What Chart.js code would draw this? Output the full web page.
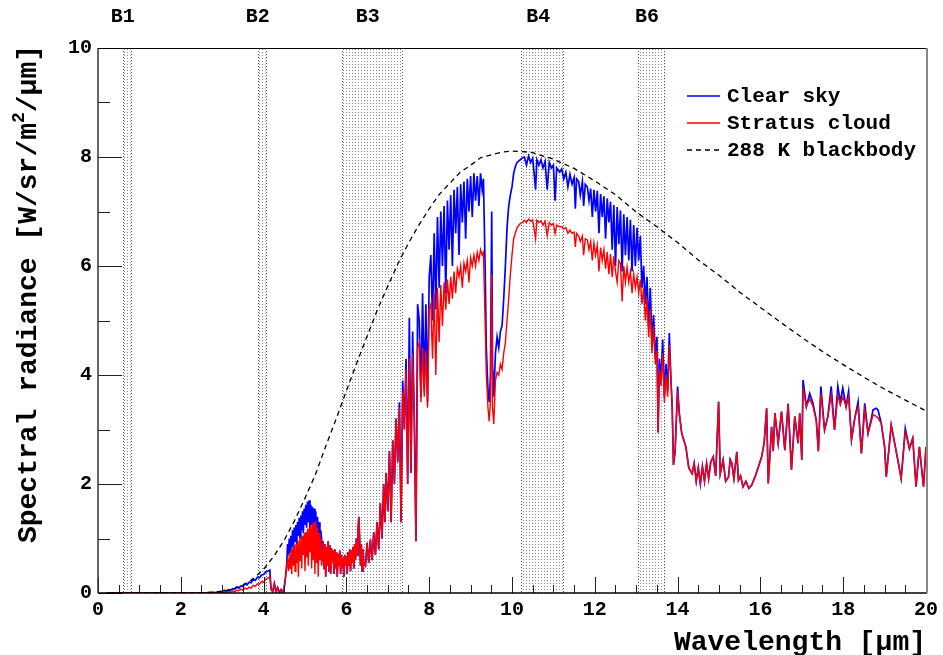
<!DOCTYPE html>
<html>
<head>
<meta charset="utf-8">
<script src="https://cdn.jsdelivr.net/npm/chart.js@4.4.1/dist/chart.umd.min.js"></script>
<style>
  html, body { margin: 0; padding: 0; background: #fff; }
  canvas { display: block; }
</style>
</head>
<body>
<canvas id="c" width="943" height="655"></canvas>
<script>
// ---------------- data ----------------
const wl = [
  0.2,1.0,2.0,2.6,2.8,2.9,
  2.95,3.0,3.05,3.1,3.15,3.2,3.25,3.3,3.35,3.4,3.45,3.5,3.55,3.6,3.65,3.7,3.75,3.8,3.85,3.9,3.95,4.0,4.05,4.1,4.15,4.18,
  4.22,4.26,4.3,4.34,4.38,4.42,4.46,4.5,4.53,
  4.56,4.58,4.60,4.62,4.64,4.66,4.68,4.70,4.72,4.74,4.76,4.78,4.80,4.82,4.84,4.86,4.88,4.90,4.92,4.94,4.96,4.98,5.00,5.02,5.04,5.06,5.08,5.10,5.12,5.14,5.16,5.18,5.20,5.22,5.24,5.26,5.28,5.30,5.32,5.34,5.36,5.38,5.40,
  5.42,5.44,5.46,5.48,5.50,5.52,5.54,5.56,5.58,5.60,5.62,5.64,5.66,5.68,5.70,5.72,5.74,5.76,5.78,5.80,5.82,5.84,5.86,5.88,5.90,5.92,5.94,5.96,5.98,6.00,6.02,6.04,6.06,6.08,6.10,6.12,6.14,6.16,6.18,6.20,6.22,6.24,6.26,6.28,6.30,6.32,6.34,6.36,6.38,6.40,6.42,
  6.46,6.50,6.54,6.58,6.62,6.66,6.70,6.74,6.78,6.82,6.86,6.90,6.93,6.96,7.00,7.04,7.08,7.12,7.16,7.20,7.24,7.28,7.32,7.36,7.40,7.44,7.48,7.52,7.56,7.60,7.64,7.68,7.72,7.76,7.80,7.84,7.88,7.92,7.96,8.00,
  8.04,8.08,8.12,8.16,8.20,8.24,8.28,8.32,8.36,8.40,8.44,8.48,8.52,8.56,8.60,8.64,8.68,8.72,8.76,8.80,8.84,8.88,8.92,8.96,9.00,9.04,9.08,9.12,9.16,9.20,9.24,9.28,9.31,
  9.35,9.38,9.42,9.45,9.48,9.51,9.53,9.56,9.60,9.64,9.68,9.72,9.76,9.80,9.84,9.88,9.92,9.96,10.00,10.04,10.08,10.12,10.20,
  10.25,10.30,10.35,10.40,10.45,10.50,10.57,10.60,10.65,10.70,10.75,10.80,10.85,10.90,10.95,11.00,11.04,11.08,11.15,11.20,11.25,11.30,11.35,11.40,11.45,11.50,11.53,11.56,11.61,11.65,11.70,11.73,11.77,11.82,11.86,11.90,11.94,11.98,12.02,12.06,12.10,12.14,12.18,12.22,12.26,12.30,12.34,12.38,12.42,12.46,12.50,12.54,12.58,12.62,12.66,12.70,12.74,12.78,
  12.82,12.86,12.90,12.94,12.98,13.02,13.06,13.10,13.14,13.18,13.22,13.26,13.30,13.34,13.38,13.42,13.46,13.50,13.53,13.56,13.60,13.64,13.68,13.72,13.76,13.80,13.84,13.87,13.90,13.94,
  14.00,14.04,14.10,14.20,14.27,14.35,14.40,14.45,14.50,14.55,14.60,14.65,14.70,14.75,14.80,14.86,14.92,14.99,15.03,15.10,15.16,15.23,15.27,15.31,15.36,15.43,15.47,15.52,15.58,15.65,15.72,15.79,15.87,15.95,16.03,16.09,16.15,16.19,16.27,16.31,16.35,16.43,16.51,16.59,16.67,16.75,16.83,16.91,16.95,17.00,17.03,17.11,17.19,17.27,17.35,17.40,17.46,17.55,17.63,17.71,17.79,17.87,17.93,17.99,18.07,18.13,18.20,18.28,18.36,18.44,18.52,18.60,18.68,18.72,18.80,18.84,18.92,19.00,19.04,19.16,19.26,19.32,19.40,19.50,19.60,19.68,19.76,19.84,19.94,20.00
];

const clearSky = [
  0,0,0,0,0.01,0,
  0.03,0.02,0.05,0.03,0.06,0.05,0.08,0.07,0.11,0.09,0.13,0.12,0.17,0.15,0.20,0.19,0.25,0.23,0.29,0.28,0.33,0.34,0.39,0.40,0.42,0.08,
  0.03,0.17,0.02,0.10,0.0,0.06,0.0,0.12,0.3,
  0.55,0.9,0.7,1.0,0.75,1.05,0.85,1.15,0.8,1.2,0.95,1.25,0.9,1.3,1.05,1.38,1.0,1.42,1.15,1.5,1.1,1.55,1.25,1.62,1.2,1.68,1.3,1.7,1.15,1.62,1.25,1.58,1.0,1.55,1.2,1.5,0.9,1.4,1.1,1.3,0.8,1.15,1.0,
  0.6,0.95,0.45,0.9,0.3,0.85,0.5,0.95,0.4,0.88,0.35,0.82,0.55,0.78,0.35,0.8,0.45,0.75,0.3,0.72,0.5,0.78,0.35,0.7,0.45,0.65,0.3,0.7,0.5,0.68,0.35,0.75,0.5,0.8,0.4,0.78,0.55,0.85,0.45,0.9,0.6,1.0,0.7,1.15,1.4,1.0,0.5,0.9,0.4,0.8,0.55,
  0.5,0.92,0.55,0.98,0.6,1.12,0.7,1.3,0.8,1.65,1.0,2.0,1.3,2.2,1.5,2.6,1.3,2.8,2.0,3.2,2.4,3.5,1.3,3.9,3.0,4.3,2.0,5.05,2.2,4.8,3.2,0.95,5.3,5.0,3.6,5.5,3.7,5.3,3.5,5.8,
  6.2,5.0,6.6,5.2,6.9,5.6,7.0,6.0,7.1,5.5,7.2,6.3,7.3,6.0,7.4,6.6,7.45,6.2,7.5,6.8,7.55,6.5,7.6,7.0,7.65,6.9,7.7,7.2,7.65,7.1,7.7,7.4,7.6,
  6.0,4.5,3.7,3.5,4.0,7.0,4.2,3.6,4.4,4.7,4.5,4.8,4.9,5.4,6.0,6.7,7.1,7.3,7.45,7.7,7.82,7.9,7.95,
  7.98,8.0,7.85,8.02,7.9,7.98,7.4,7.95,7.85,7.95,7.8,7.92,7.4,7.9,7.8,7.85,7.2,7.8,7.72,7.78,7.6,7.72,7.45,7.68,7.5,7.62,7.05,7.6,7.55,7.3,7.55,7.1,7.5,7.45,7.2,7.42,6.9,7.4,7.0,7.38,6.6,7.32,6.9,7.28,6.5,7.24,6.8,7.18,6.3,7.12,6.0,7.08,6.4,7.02,5.9,6.95,6.2,6.9,
  6.1,6.85,5.9,6.75,6.0,6.7,6.1,6.55,5.6,6.0,5.3,5.8,4.9,5.6,4.6,5.1,4.3,4.7,2.95,4.3,3.9,4.65,3.6,4.2,3.7,4.77,3.9,3.4,2.35,2.6,
  3.79,3.3,2.93,2.68,2.3,2.19,2.38,2.05,2.3,2.0,2.32,2.05,2.38,2.1,2.4,2.5,2.15,3.51,2.19,2.44,2.05,2.13,2.45,2.38,2.1,2.59,2.07,2.15,1.95,2.05,1.92,1.98,2.13,2.31,2.5,2.75,3.39,2.01,3.05,2.6,3.30,2.75,3.33,2.62,3.47,2.26,3.24,2.75,3.30,2.44,3.91,3.42,3.66,3.48,3.17,2.6,3.79,2.99,3.24,3.79,2.99,3.79,3.5,3.76,3.42,3.70,2.81,3.21,3.51,2.56,3.48,2.93,3.2,3.36,3.39,3.36,3.11,2.68,2.13,3.08,2.68,2.44,2.10,3.02,2.65,2.84,1.95,2.68,1.95,2.68
];

const stratusCloud = [
  0,0,0,0,0,0,
  0.01,0.0,0.02,0.0,0.03,0.01,0.04,0.02,0.05,0.04,0.07,0.05,0.09,0.07,0.11,0.09,0.14,0.12,0.17,0.16,0.21,0.20,0.25,0.27,0.30,0.06,
  0.02,0.18,0.01,0.09,0.0,0.05,0.01,0.10,0.28,
  0.5,0.62,0.4,0.72,0.45,0.78,0.35,0.82,0.5,0.88,0.4,0.9,0.55,0.95,0.3,0.98,0.6,1.02,0.45,1.05,0.7,1.1,0.4,1.12,0.65,1.18,0.5,1.2,0.75,1.25,0.45,1.28,0.6,1.3,0.35,1.32,0.55,1.2,0.3,1.1,0.6,1.0,0.5,
  0.6,0.95,0.45,0.9,0.3,0.85,0.5,0.95,0.4,0.88,0.35,0.82,0.55,0.78,0.35,0.8,0.45,0.75,0.3,0.72,0.5,0.78,0.35,0.7,0.45,0.65,0.3,0.7,0.5,0.68,0.35,0.75,0.5,0.8,0.4,0.78,0.55,0.85,0.45,0.9,0.6,1.0,0.7,1.15,1.4,1.0,0.5,0.9,0.4,0.8,0.55,
  0.5,0.92,0.55,0.98,0.6,1.12,0.7,1.3,0.8,1.65,1.0,2.0,1.3,2.2,1.5,2.6,1.3,2.8,2.0,3.2,2.4,3.4,1.3,3.7,3.0,4.1,2.0,4.3,2.2,4.4,3.2,0.95,4.5,4.6,3.5,4.5,3.6,4.45,3.4,5.2,
  5.3,4.3,5.5,4.0,5.6,4.6,5.65,4.9,5.7,5.2,5.75,5.3,5.8,5.4,5.9,5.5,5.95,5.8,6.0,5.6,6.05,5.9,6.1,5.7,6.15,6.0,6.2,6.0,6.25,6.1,6.3,6.2,6.25,
  5.0,4.0,3.4,3.15,3.5,5.85,3.4,3.1,3.9,4.05,4.0,4.2,4.1,4.4,4.6,5.0,5.4,5.85,6.2,6.5,6.6,6.7,6.78,
  6.8,6.84,6.8,6.86,6.82,6.85,6.5,6.84,6.8,6.83,6.75,6.82,6.55,6.8,6.75,6.78,6.6,6.75,6.72,6.72,6.68,6.7,6.6,6.66,6.6,6.62,6.35,6.6,6.55,6.45,6.55,6.2,6.5,6.48,6.3,6.45,6.1,6.42,6.2,6.38,5.9,6.34,6.1,6.3,5.95,6.26,5.85,6.22,5.8,6.18,5.9,5.7,6.1,6.05,5.35,6.0,5.7,5.98,
  5.7,5.9,5.5,5.85,5.6,5.8,5.5,5.75,5.3,5.6,5.0,5.4,4.7,5.2,4.4,4.9,4.2,4.45,2.94,4.1,3.8,4.4,3.5,4.0,3.6,4.55,3.9,3.4,2.35,2.6,
  3.7,3.3,2.93,2.68,2.3,2.19,2.38,2.05,2.3,2.0,2.32,2.05,2.38,2.1,2.4,2.5,2.15,3.51,2.19,2.44,2.05,2.13,2.45,2.38,2.1,2.59,2.07,2.15,1.95,2.05,1.92,1.98,2.13,2.31,2.5,2.75,3.39,2.01,3.05,2.6,3.30,2.75,3.33,2.62,3.47,2.26,3.24,2.75,3.30,2.44,3.76,3.42,3.57,3.42,3.17,2.6,3.66,2.99,3.24,3.63,2.99,3.63,3.45,3.6,3.42,3.60,2.81,3.21,3.42,2.56,3.36,2.93,3.15,3.27,3.24,3.21,3.11,2.68,2.13,3.08,2.68,2.44,2.10,2.96,2.65,2.84,1.95,2.68,1.95,2.68
];

const bbWl  = [0.25,1.0,2.0,2.5,3.0,3.25,3.5,3.75,4.0,4.25,4.5,4.75,5.0,5.25,5.5,5.75,6.0,6.25,6.5,6.75,7.0,7.25,7.5,7.75,8.0,8.25,8.5,8.75,9.0,9.25,9.5,9.75,10.0,10.25,10.5,11.0,11.5,12.0,12.5,13.0,13.5,14.0,14.5,15.0,15.5,16.0,16.5,17.0,17.5,18.0,18.5,19.0,19.5,20.0];
const bbRad = [0,0,0,0.003,0.029,0.069,0.144,0.263,0.437,0.676,0.972,1.33,1.74,2.17,2.69,3.19,3.71,4.22,4.71,5.20,5.63,6.05,6.42,6.75,7.05,7.32,7.52,7.72,7.85,7.99,8.04,8.09,8.11,8.10,8.08,7.96,7.79,7.56,7.31,6.99,6.72,6.43,6.11,5.83,5.52,5.24,4.96,4.69,4.43,4.19,3.96,3.74,3.54,3.34];

const bandNames = ['B1','B2','B3','B4','B6'];
const bandFrom  = [0.60, 3.86, 5.89, 10.22, 13.04];
const bandTo    = [0.79, 4.05, 7.34, 11.24, 13.68];

const seriesNames = ['Clear sky','Stratus cloud','288 K blackbody'];
const xTitle = 'Wavelength [\u03bcm]';

// ---------------- drawing ----------------
const FONT = '"Liberation Mono", "DejaVu Sans Mono", monospace';
const toXY = (xs, ys) => xs.map((x, i) => ({ x, y: ys[i] }));

// dotted pattern for bands
const tile = document.createElement('canvas');
tile.width = 3; tile.height = 3;
const tctx = tile.getContext('2d');
tctx.fillStyle = '#8a8a8a';
tctx.fillRect(1, 1, 1, 1);

const bandPlugin = {
  id: 'bands',
  beforeDatasetsDraw(chart) {
    const { ctx, chartArea: a, scales: { x } } = chart;
    const pat = ctx.createPattern(tile, 'repeat');
    ctx.save();
    for (let i = 0; i < bandNames.length; i++) {
      const x0 = x.getPixelForValue(bandFrom[i]);
      const x1 = x.getPixelForValue(bandTo[i]);
      ctx.fillStyle = pat;
      ctx.fillRect(x0, a.top, x1 - x0, a.bottom - a.top);
      ctx.strokeStyle = '#555';
      ctx.lineWidth = 1;
      ctx.setLineDash([1, 2]);
      [x0, x1].forEach(px => {
        ctx.beginPath();
        ctx.moveTo(Math.round(px) + 0.5, a.top);
        ctx.lineTo(Math.round(px) + 0.5, a.bottom);
        ctx.stroke();
      });
    }
    ctx.setLineDash([]);
    // band labels
    ctx.fillStyle = '#000';
    ctx.font = 'bold 20px ' + FONT;
    ctx.textAlign = 'center';
    ctx.textBaseline = 'middle';
    for (let i = 0; i < bandNames.length; i++) {
      const c = (x.getPixelForValue(bandFrom[i]) + x.getPixelForValue(bandTo[i])) / 2 - 4;
      ctx.fillText(bandNames[i], c, 17);
    }
    ctx.restore();
  }
};

const framePlugin = {
  id: 'frame',
  afterDraw(chart) {
    const { ctx, chartArea: a, scales: { x, y } } = chart;
    ctx.save();
    // ticks (inward)
    ctx.strokeStyle = '#222';
    ctx.lineWidth = 1;
    for (let v = 0; v <= 20.001; v += 0.5) {
      const px = Math.round(x.getPixelForValue(v)) + 0.5;
      const len = (Math.abs(v / 2 - Math.round(v / 2)) < 1e-6) ? 16 : 8;
      ctx.beginPath(); ctx.moveTo(px, a.bottom); ctx.lineTo(px, a.bottom - len); ctx.stroke();
    }
    for (let v = 0; v <= 10.001; v += 1) {
      const py = Math.round(y.getPixelForValue(v)) + 0.5;
      const len = (v % 2 === 0) ? 24 : 12;
      ctx.beginPath(); ctx.moveTo(a.left, py); ctx.lineTo(a.left + len, py); ctx.stroke();
    }
    // frame
    ctx.strokeStyle = '#000';
    ctx.lineWidth = 1;
    ctx.beginPath(); ctx.moveTo(a.left, a.top + 0.5); ctx.lineTo(a.right, a.top + 0.5); ctx.stroke();
    ctx.lineWidth = 1.5;
    ctx.beginPath(); ctx.moveTo(a.left, a.bottom); ctx.lineTo(a.right + 1, a.bottom); ctx.stroke();
    ctx.strokeStyle = '#333';
    ctx.beginPath(); ctx.moveTo(a.left, a.top); ctx.lineTo(a.left, a.bottom); ctx.stroke();
    ctx.strokeStyle = '#888';
    ctx.lineWidth = 2;
    ctx.beginPath(); ctx.moveTo(a.right + 1, a.top); ctx.lineTo(a.right + 1, a.bottom); ctx.stroke();

    // legend
    const lx0 = 687, lx1 = 720, tx = 727, rows = [96, 123, 150];
    const styles = [
      { c: '#0000ff', d: [] },
      { c: '#ff0000', d: [] },
      { c: '#000000', d: [5, 4] }
    ];
    ctx.font = 'bold 21px ' + FONT;
    ctx.textAlign = 'left';
    ctx.textBaseline = 'middle';
    for (let i = 0; i < 3; i++) {
      ctx.strokeStyle = styles[i].c;
      ctx.lineWidth = 1.3;
      ctx.setLineDash(styles[i].d);
      ctx.beginPath(); ctx.moveTo(lx0, rows[i]); ctx.lineTo(lx1, rows[i]); ctx.stroke();
      ctx.setLineDash([]);
      ctx.fillStyle = '#000';
      ctx.fillText(seriesNames[i], tx, rows[i] + 1);
    }

    // x title
    ctx.font = 'bold 28px ' + FONT;
    ctx.textAlign = 'right';
    ctx.textBaseline = 'alphabetic';
    ctx.fillText(xTitle, a.right, 650);

    // y title with superscript
    const p1 = 'Spectral radiance [W/sr/m', sup = '2', p2 = '/\u03bcm]';
    ctx.font = 'bold 28px ' + FONT;
    const w1 = ctx.measureText(p1).width, w2 = ctx.measureText(p2).width;
    ctx.font = 'bold 18px ' + FONT;
    const ws = ctx.measureText(sup).width;
    const W = w1 + ws + w2;
    ctx.translate(36, 45);
    ctx.rotate(-Math.PI / 2);
    ctx.textAlign = 'left';
    ctx.font = 'bold 28px ' + FONT;
    ctx.fillText(p1, -W, 0);
    ctx.font = 'bold 18px ' + FONT;
    ctx.fillText(sup, -W + w1, -12);
    ctx.font = 'bold 28px ' + FONT;
    ctx.fillText(p2, -W + w1 + ws, 0);
    ctx.restore();
  }
};

const tickFont = { family: FONT, weight: 'bold', size: 20 };

new Chart(document.getElementById('c').getContext('2d'), {
  type: 'line',
  data: {
    datasets: [
      { label: seriesNames[2], data: toXY(bbWl, bbRad), borderColor: '#000', borderWidth: 1.3,
        borderDash: [5, 4], pointRadius: 0, tension: 0, fill: false, order: 1 },
      { label: seriesNames[1], data: toXY(wl, stratusCloud), borderColor: '#ff0000', borderWidth: 1.4,
        pointRadius: 0, tension: 0, fill: false, order: 2 },
      { label: seriesNames[0], data: toXY(wl, clearSky), borderColor: '#0000ff', borderWidth: 1.7,
        pointRadius: 0, tension: 0, fill: false, order: 3 }
    ]
  },
  options: {
    responsive: false,
    animation: false,
    devicePixelRatio: 1,
    layout: { padding: { top: 48, right: 15, left: 0, bottom: 0 } },
    plugins: { legend: { display: false }, tooltip: { enabled: false }, title: { display: false } },
    scales: {
      x: {
        type: 'linear', min: 0, max: 20,
        ticks: { stepSize: 2, font: tickFont, color: '#000', padding: 5, maxRotation: 0, autoSkip: false },
        grid: { display: false, drawTicks: false },
        border: { display: false },
        afterFit(s) { s.height = 62; }
      },
      y: {
        type: 'linear', min: 0, max: 10,
        ticks: { stepSize: 2, font: tickFont, color: '#000', padding: 6 },
        grid: { display: false, drawTicks: false },
        border: { display: false },
        afterFit(s) { s.width = 98; }
      }
    }
  },
  plugins: [bandPlugin, framePlugin]
});
</script>
</body>
</html>
